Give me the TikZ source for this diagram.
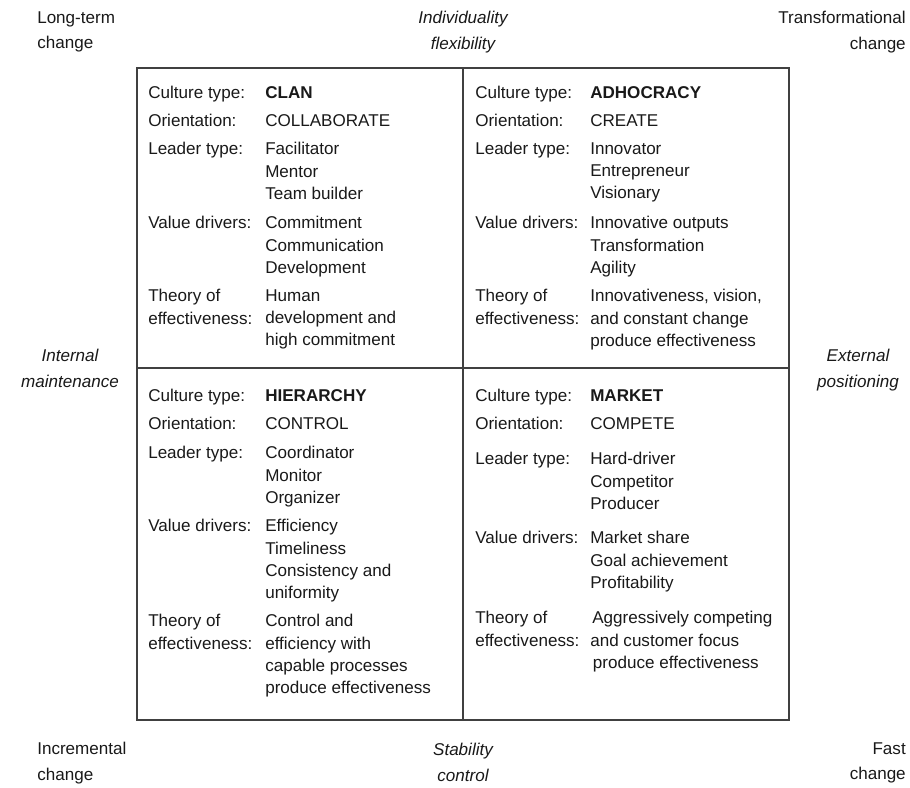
\documentclass[tikz,border=0pt]{standalone}
\usepackage{fontspec}
\setmainfont{Liberation Sans}
\usetikzlibrary{positioning}

\newcommand{\cellfont}{\fontsize{12.8}{16.8}\selectfont}
\newcommand{\axisfont}{\fontsize{12.8}{19.2}\selectfont}

\tikzset{
  cell/.style={anchor=north west, align=left, inner sep=0pt, text=black!90,
    font=\cellfont},
  axislbl/.style={anchor=north, align=center, inner sep=0pt, text=black!90,
    font=\axisfont\itshape},
  cornerlbl/.style={align=left, inner sep=0pt, text=black!90,
    font=\axisfont},
  frame/.style={line width=1.4pt, draw=black!75},
}

\begin{document}
\begin{tikzpicture}[x=0.75pt, y=-0.75pt]
  \useasboundingbox (0,0) rectangle (910,788);

  % frame of the four quadrants
  \coordinate (nw) at (137,68);
  \coordinate (se) at (789,720);
  \coordinate (mid) at (463,368);
  \draw[frame] (nw) rectangle (se);
  \draw[frame] (nw -| mid) -- (se -| mid);
  \draw[frame] (nw |- mid) -- (se |- mid);

  % clan
  \node[cell] (clanA) at (148,86) {Culture type:};
  \node[cell] (clanAv) at (265,86) {\textbf{CLAN}};
  \node[cell] (clanB) at (148,114) {Orientation:};
  \node[cell] (clanBv) at (265,114) {COLLABORATE};
  \node[cell] (clanC) at (148,142) {Leader type:};
  \node[cell] (clanCv) at (265,142) {Facilitator\\Mentor\\Team builder};
  \node[cell] (clanD) at (148,216) {Value drivers:};
  \node[cell] (clanDv) at (265,216) {Commitment\\Communication\\Development};
  \node[cell] (clanE) at (148,289) {Theory of\\effectiveness:};
  \node[cell] (clanEv) at (265,289) {Human\\development and\\high commitment};

  % adhocracy
  \node[cell] (adhA) at (475,86) {Culture type:};
  \node[cell] (adhAv) at (590,86) {\textbf{ADHOCRACY}};
  \node[cell] (adhB) at (475,114) {Orientation:};
  \node[cell] (adhBv) at (590,114) {CREATE};
  \node[cell] (adhC) at (475,142) {Leader type:};
  \node[cell] (adhCv) at (590,142) {Innovator\\Entrepreneur\\Visionary};
  \node[cell] (adhD) at (475,216) {Value drivers:};
  \node[cell] (adhDv) at (590,216) {Innovative outputs\\Transformation\\Agility};
  \node[cell] (adhE) at (475,289) {Theory of\\effectiveness:};
  \node[cell] (adhEv) at (590,289) {Innovativeness, vision,\\and constant change\\produce effectiveness};

  % hierarchy
  \node[cell] (hieA) at (148,389) {Culture type:};
  \node[cell] (hieAv) at (265,389) {\textbf{HIERARCHY}};
  \node[cell] (hieB) at (148,417) {Orientation:};
  \node[cell] (hieBv) at (265,417) {CONTROL};
  \node[cell] (hieC) at (148,446) {Leader type:};
  \node[cell] (hieCv) at (265,446) {Coordinator\\Monitor\\Organizer};
  \node[cell] (hieD) at (148,519) {Value drivers:};
  \node[cell] (hieDv) at (265,519) {Efficiency\\Timeliness\\Consistency and\\uniformity};
  \node[cell] (hieE) at (148,614) {Theory of\\effectiveness:};
  \node[cell] (hieEv) at (265,614) {Control and\\efficiency with\\capable processes\\produce effectiveness};

  % market
  \node[cell] (mktA) at (475,389) {Culture type:};
  \node[cell] (mktAv) at (590,389) {\textbf{MARKET}};
  \node[cell] (mktB) at (475,417) {Orientation:};
  \node[cell] (mktBv) at (590,417) {COMPETE};
  \node[cell] (mktC) at (475,452) {Leader type:};
  \node[cell] (mktCv) at (590,452) {Hard-driver\\Competitor\\Producer};
  \node[cell] (mktD) at (475,531) {Value drivers:};
  \node[cell] (mktDv) at (590,531) {Market share\\Goal achievement\\Profitability};
  \node[cell] (mktE) at (475,611) {Theory of\\effectiveness:};
  \node[cell] (mktEv) at (590,611) {\hspace{1.5pt}Aggressively competing\\and customer focus\\\hspace{2pt}produce effectiveness};

  % axes
  \node[axislbl] (flex) at (463,11) {Individuality\\flexibility};
  \node[axislbl] (stab) at (463,743) {Stability\\control};
  \node[axislbl] (intern) at (70,349) {Internal\\maintenance};
  \node[axislbl] (extern) at (858,349) {External\\positioning};

  % corners
  \node[cornerlbl, anchor=north west] (longterm) at (37,11) {Long-term\\change};
  \node[cornerlbl, anchor=north east, align=right] (transf) at (906,11) {Transformational\\change};
  \node[cornerlbl, anchor=north west] (increm) at (37,742) {Incremental\\change};
  \node[cornerlbl, anchor=north east, align=right] (fast) at (906,742) {Fast\\change};
\end{tikzpicture}
\end{document}
